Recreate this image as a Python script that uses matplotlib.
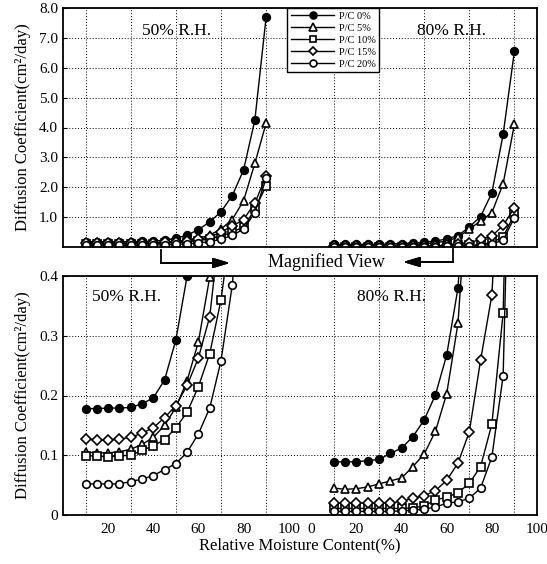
import matplotlib.pyplot as plt
from matplotlib.lines import Line2D

plt.rcParams['font.family'] = ['Liberation Serif', 'DejaVu Serif']

# relative moisture content (%) of the measured points
mc = [10, 15, 20, 25, 30, 35, 40, 45, 50, 55, 60, 65, 70, 75, 80, 85, 90]

# diffusion coefficient (cm2/day), 50% R.H.
pc0_50 = [0.178, 0.178, 0.179, 0.179, 0.180, 0.186, 0.196, 0.226, 0.293, 0.40, 0.58, 0.84, 1.18, 1.72, 2.58, 4.25, 7.7]
pc5_50 = [0.105, 0.104, 0.104, 0.106, 0.110, 0.118, 0.130, 0.150, 0.180, 0.225, 0.290, 0.398, 0.60, 0.92, 1.55, 2.80, 4.15]
pc10_50 = [0.099, 0.099, 0.097, 0.099, 0.100, 0.108, 0.116, 0.126, 0.146, 0.172, 0.215, 0.270, 0.36, 0.50, 0.67, 1.26, 2.05]
pc15_50 = [0.127, 0.126, 0.126, 0.127, 0.130, 0.137, 0.146, 0.163, 0.183, 0.217, 0.263, 0.332, 0.50, 0.70, 0.92, 1.47, 2.38]
pc20_50 = [0.052, 0.052, 0.052, 0.052, 0.056, 0.060, 0.066, 0.076, 0.086, 0.105, 0.136, 0.179, 0.258, 0.385, 0.60, 1.15, 2.30]

# diffusion coefficient (cm2/day), 80% R.H.
pc0_80 = [0.089, 0.089, 0.089, 0.091, 0.093, 0.103, 0.112, 0.131, 0.159, 0.201, 0.268, 0.38, 0.67, 1.02, 1.81, 3.77, 6.56]
pc5_80 = [0.045, 0.043, 0.044, 0.047, 0.052, 0.057, 0.062, 0.081, 0.102, 0.140, 0.203, 0.321, 0.60, 0.87, 1.15, 2.12, 4.11]
pc10_80 = [0.011, 0.011, 0.011, 0.011, 0.011, 0.011, 0.011, 0.012, 0.015, 0.025, 0.030, 0.037, 0.053, 0.081, 0.152, 0.338, 1.10]
pc15_80 = [0.020, 0.020, 0.020, 0.020, 0.020, 0.020, 0.023, 0.028, 0.032, 0.041, 0.058, 0.087, 0.139, 0.259, 0.368, 0.72, 1.32]
pc20_80 = [0.006, 0.006, 0.006, 0.006, 0.006, 0.006, 0.007, 0.008, 0.010, 0.013, 0.020, 0.022, 0.028, 0.045, 0.097, 0.233, 0.98]

labels = ['P/C 0%', 'P/C 5%', 'P/C 10%', 'P/C 15%', 'P/C 20%']
markers = ['o', '^', 's', 'D', 'o']
sizes = [5.5, 6, 5.5, 5, 5.5]
faces = ['black', 'white', 'white', 'white', 'white']

series_50 = [pc0_50, pc5_50, pc10_50, pc15_50, pc20_50]
series_80 = [pc0_80, pc5_80, pc10_80, pc15_80, pc20_80]

# the 80% R.H. block sits to the right of the 50% block on one shared axis
shift = 110
xtick_pos = [20, 40, 60, 80, 100, 110, 130, 150, 170, 190, 210]
xtick_lab = ['20', '40', '60', '80', '100', '0', '20', '40', '60', '80', '100']
xgrid = [10, 20, 30, 40, 50, 60, 70, 80, 90, 100, 110, 120, 130, 140, 150, 160, 170, 180, 190, 200]

fig = plt.figure(figsize=(5.47, 5.64), dpi=100)
W, H = 547, 564
ax1 = fig.add_axes([63 / W, 1 - 247 / H, 474 / W, 239 / H])
ax2 = fig.add_axes([63 / W, 1 - 515 / H, 474 / W, 239 / H])

for ax in (ax1, ax2):
    for i in range(5):
        kw = dict(color='black', lw=1.0, marker=markers[i], ms=sizes[i],
                  mfc=faces[i], mec='black', mew=1.2)
        ax.plot(mc, series_50[i], label=labels[i], **kw)
        ax.plot([m + shift for m in mc], series_80[i], **kw)
    ax.set_xlim(0, 210)
    ax.set_xticks(xgrid, minor=True)
    ax.grid(True, which='minor', axis='x', color='black', lw=0.7, ls=(0, (1, 2)))
    ax.grid(True, which='major', axis='y', color='black', lw=0.7, ls=(0, (1, 2)))
    ax.tick_params(which='both', direction='in', length=3, labelsize=11)
    ax.tick_params(which='minor', length=0)
    for s in ax.spines.values():
        s.set_linewidth(1.3)
    ax.set_ylabel('Diffusion Coefficient(cm²/day)', fontsize=12, labelpad=6)

# top panel: full range
ax1.set_ylim(0, 8)
ax1.set_yticks([1, 2, 3, 4, 5, 6, 7, 8])
ax1.set_yticklabels(['1.0', '2.0', '3.0', '4.0', '5.0', '6.0', '7.0', '8.0'])
ax1.set_xticks(xtick_pos)
ax1.set_xticklabels([])
ax1.tick_params(axis='x', which='major', length=0)
ax1.text(0.24, 0.905, '50% R.H.', transform=ax1.transAxes, ha='center', va='center', fontsize=12.5)
ax1.text(0.82, 0.905, '80% R.H.', transform=ax1.transAxes, ha='center', va='center', fontsize=12.5)
leg = ax1.legend(loc='upper left', bbox_to_anchor=(287 / W, 1 - 8 / H), bbox_transform=fig.transFigure,
                 fontsize=7.5, handlelength=4.2, labelspacing=0.25, borderaxespad=0,
                 borderpad=0.35, handletextpad=0.4, fancybox=False, framealpha=1, markerscale=0.9)
leg.get_frame().set_edgecolor('black')
leg.get_frame().set_linewidth(1.0)

# bottom panel: magnified view
ax2.set_ylim(0, 0.4)
ax2.set_yticks([0, 0.1, 0.2, 0.3, 0.4])
ax2.set_yticklabels(['0', '0.1', '0.2', '0.3', '0.4'])
ax2.set_xticks(xtick_pos)
ax2.set_xticklabels(xtick_lab)
ax2.tick_params(axis='x', which='major', length=0, pad=6)
ax2.set_xlabel('Relative Moisture Content(%)', fontsize=12, labelpad=1)
ax2.text(0.133, 0.912, '50% R.H.', transform=ax2.transAxes, ha='center', va='center', fontsize=12.5)
ax2.text(0.694, 0.912, '80% R.H.', transform=ax2.transAxes, ha='center', va='center', fontsize=12.5)

# "Magnified View" with the two bent arrows
fig.text(326 / W, 1 - 262 / H, 'Magnified View', ha='center', va='center', fontsize=13)
fig.add_artist(Line2D([161 / W, 161 / W], [1 - 250 / H, 1 - 263 / H], color='black', lw=1.3))
fig.add_artist(Line2D([453 / W, 453 / W], [1 - 249 / H, 1 - 262 / H], color='black', lw=1.3))
arrow = dict(arrowstyle='-|>,head_length=1.0,head_width=0.3', color='black', lw=1.3, shrinkA=0, shrinkB=0)
fig.add_artist(plt.annotate('', xy=(230 / W, 1 - 263 / H), xytext=(161 / W, 1 - 263 / H),
                            xycoords='figure fraction', arrowprops=arrow))
fig.add_artist(plt.annotate('', xy=(403 / W, 1 - 262 / H), xytext=(453 / W, 1 - 262 / H),
                            xycoords='figure fraction', arrowprops=arrow))

fig.savefig('out.png', dpi=100)
